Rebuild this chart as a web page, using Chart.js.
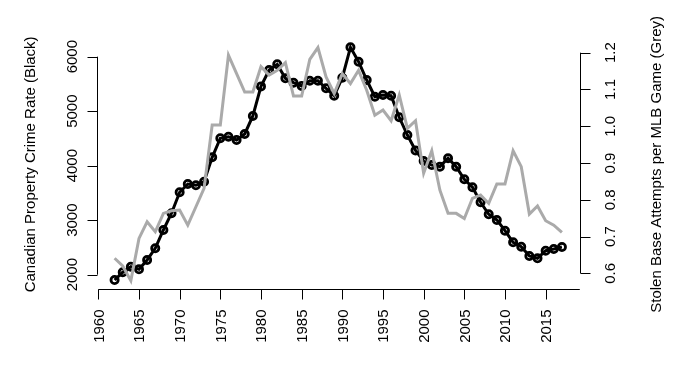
<!DOCTYPE html>
<html>
<head>
<meta charset="utf-8">
<script src="https://cdn.jsdelivr.net/npm/chart.js@4"></script>
<style>
  html, body { margin: 0; padding: 0; background: #fff; }
  #wrap { width: 676px; height: 387px; }
</style>
</head>
<body>
<div id="wrap"><canvas id="chart" width="676" height="387"></canvas></div>
<script>
const years = [];
for (let y = 1962; y <= 2017; y++) years.push(y);

const crimeRate = [
  1903, 2044, 2147, 2100, 2270, 2484, 2820, 3127, 3512, 3664,
  3640, 3706, 4154, 4503, 4532, 4472, 4582, 4912, 5455, 5756,
  5860, 5603, 5523, 5462, 5560, 5560, 5420, 5284, 5615, 6172,
  5908, 5572, 5266, 5297, 5284, 4888, 4563, 4280, 4086, 4013,
  3982, 4136, 3982, 3750, 3604, 3328, 3108, 3004, 2807, 2594,
  2514, 2343, 2301, 2440, 2472, 2508
];

const stealAttempts = [
  0.641, 0.620, 0.580, 0.695, 0.740, 0.713, 0.763, 0.770, 0.772, 0.731,
  0.781, 0.831, 1.003, 1.003, 1.193, 1.143, 1.093, 1.093, 1.162, 1.139,
  1.152, 1.173, 1.082, 1.082, 1.182, 1.214, 1.134, 1.089, 1.143, 1.116,
  1.152, 1.098, 1.030, 1.044, 1.015, 1.085, 0.994, 1.015, 0.872, 0.933,
  0.826, 0.763, 0.763, 0.749, 0.804, 0.813, 0.790, 0.843, 0.843, 0.933,
  0.890, 0.761, 0.783, 0.743, 0.731, 0.711
];

const xTicks = [1960, 1965, 1970, 1975, 1980, 1985, 1990, 1995, 2000, 2005, 2010, 2015];
const leftTicks = [2000, 3000, 4000, 5000, 6000];
const rightTicks = [0.6, 0.7, 0.8, 0.9, 1.0, 1.1, 1.2];

const leftTitle = 'Canadian Property Crime Rate (Black)';
const rightTitle = 'Stolen Base Attempts per MLB Game (Grey)';

const FONT = '15px "Liberation Sans", Arial, Helvetica, sans-serif';

// R-style axes: line from first to last tick, ticks outside, labels perpendicular
const baseAxes = {
  id: 'baseAxes',
  afterDraw(chart) {
    const ctx = chart.ctx;
    const area = chart.chartArea;
    const sx = chart.scales.x, sy = chart.scales.y, sy2 = chart.scales.y2;
    ctx.save();
    ctx.strokeStyle = '#000';
    ctx.fillStyle = '#000';
    ctx.lineWidth = 1;
    ctx.font = FONT;

    // bottom axis
    const yb = Math.round(area.bottom) + 0.5;
    ctx.beginPath();
    ctx.moveTo(sx.getPixelForValue(xTicks[0]), yb);
    ctx.lineTo(area.right, yb);
    xTicks.forEach(t => {
      const px = Math.round(sx.getPixelForValue(t)) + 0.5;
      ctx.moveTo(px, yb);
      ctx.lineTo(px, yb + 10);
    });
    ctx.stroke();
    xTicks.forEach(t => {
      const px = sx.getPixelForValue(t);
      ctx.save();
      ctx.translate(px + 5.4, yb + 20);
      ctx.rotate(-Math.PI / 2);
      ctx.textAlign = 'right';
      ctx.textBaseline = 'alphabetic';
      ctx.fillText(String(t), 0, 0);
      ctx.restore();
    });

    // left axis
    const xl = Math.round(area.left) + 0.5;
    ctx.beginPath();
    ctx.moveTo(xl, sy.getPixelForValue(leftTicks[0]));
    ctx.lineTo(xl, sy.getPixelForValue(leftTicks[leftTicks.length - 1]));
    leftTicks.forEach(t => {
      const py = Math.round(sy.getPixelForValue(t)) + 0.5;
      ctx.moveTo(xl, py);
      ctx.lineTo(xl - 10, py);
    });
    ctx.stroke();
    leftTicks.forEach(t => {
      ctx.save();
      ctx.translate(77, sy.getPixelForValue(t));
      ctx.rotate(-Math.PI / 2);
      ctx.textAlign = 'center';
      ctx.fillText(String(t), 0, 0);
      ctx.restore();
    });

    // right axis
    const xr = Math.round(area.right) + 0.5;
    ctx.beginPath();
    ctx.moveTo(xr, sy2.getPixelForValue(rightTicks[0]));
    ctx.lineTo(xr, sy2.getPixelForValue(rightTicks[rightTicks.length - 1]));
    rightTicks.forEach(t => {
      const py = Math.round(sy2.getPixelForValue(t)) + 0.5;
      ctx.moveTo(xr, py);
      ctx.lineTo(xr + 10, py);
    });
    ctx.stroke();
    rightTicks.forEach(t => {
      ctx.save();
      ctx.translate(614.5, sy2.getPixelForValue(t));
      ctx.rotate(-Math.PI / 2);
      ctx.textAlign = 'center';
      ctx.fillText(t.toFixed(1), 0, 0);
      ctx.restore();
    });

    // axis titles
    const midY = (area.top + area.bottom) / 2;
    ctx.save();
    ctx.translate(34.5, midY);
    ctx.rotate(-Math.PI / 2);
    ctx.textAlign = 'center';
    ctx.fillText(leftTitle, 0, 0);
    ctx.restore();

    ctx.save();
    ctx.translate(660.5, midY);
    ctx.rotate(-Math.PI / 2);
    ctx.textAlign = 'center';
    ctx.fillText(rightTitle, 0, 0);
    ctx.restore();

    ctx.restore();
  }
};

new Chart(document.getElementById('chart'), {
  type: 'line',
  data: {
    datasets: [
      {
        label: 'Stolen Base Attempts',
        data: years.map((y, i) => ({ x: y, y: stealAttempts[i] })),
        yAxisID: 'y2',
        borderColor: '#aaaaaa',
        borderWidth: 3,
        pointRadius: 0,
        tension: 0,
        fill: false
      },
      {
        label: 'Property Crime Rate',
        data: years.map((y, i) => ({ x: y, y: crimeRate[i] })),
        yAxisID: 'y',
        borderColor: '#000',
        borderWidth: 3,
        pointRadius: 3.6,
        pointBorderWidth: 2.8,
        pointBorderColor: '#000',
        pointBackgroundColor: 'rgba(0,0,0,0)',
        tension: 0,
        fill: false
      }
    ]
  },
  options: {
    responsive: false,
    animation: false,
    devicePixelRatio: 1,
    layout: { padding: { left: 96.7, top: 39.3, right: 96.2, bottom: 97.6 } },
    plugins: {
      legend: { display: false },
      tooltip: { enabled: false }
    },
    scales: {
      x: { type: 'linear', min: 1959.8, max: 2019.2, display: false },
      y: { type: 'linear', position: 'left', min: 1730, max: 6319, display: false },
      y2: { type: 'linear', position: 'right', min: 0.5562, max: 1.2364, display: false }
    }
  },
  plugins: [baseAxes]
});
</script>
</body>
</html>
